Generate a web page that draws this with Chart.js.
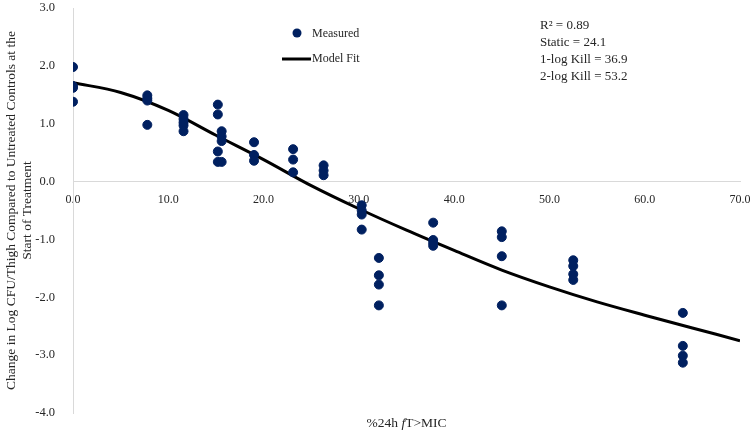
<!DOCTYPE html>
<html>
<head>
<meta charset="utf-8">
<script src="https://cdn.jsdelivr.net/npm/chart.js@4.4.1/dist/chart.umd.min.js"></script>
<style>
  html, body { margin: 0; padding: 0; background: #fff; }
  #wrap { width: 750px; height: 433px; position: relative; }
</style>
</head>
<body>
<div id="wrap"><canvas id="pdChart"></canvas></div>
<script>
"use strict"

// %24h fT>MIC of each dose group and the measured change in log CFU/thigh
const doseFT = [0.0, 7.8, 11.6, 15.2, 15.6, 19.0, 23.1, 26.3, 30.3, 32.1, 37.8, 45.0, 52.5, 64.0]
const measuredLogChange = [
    [1.98, 1.65, 1.62, 1.38],
    [1.49, 1.44, 1.40, 0.98],
    [1.15, 1.08, 1.02, 0.97, 0.87],
    [1.33, 1.16, 0.52, 0.34],
    [0.87, 0.78, 0.70, 0.34],
    [0.68, 0.46, 0.36],
    [0.56, 0.38, 0.16],
    [0.28, 0.19, 0.11],
    [-0.41, -0.50, -0.57, -0.83],
    [-1.32, -1.62, -1.78, -2.14],
    [-0.71, -1.01, -1.06, -1.11],
    [-0.86, -0.96, -1.29, -2.14],
    [-1.36, -1.46, -1.60, -1.70],
    [-2.27, -2.84, -3.01, -3.13]
]

// model fit curve
const fitX = [0, 5, 10, 15, 20, 25, 30, 35, 40, 45, 50, 55, 60, 65, 70]
const fitY = [1.71, 1.54, 1.23, 0.80, 0.38, -0.07, -0.47, -0.84, -1.19, -1.53, -1.82, -2.08, -2.31, -2.53, -2.75]

const seriesLabels = ["Measured", "Model Fit"]
const statsLines = ["R\u00B2 = 0.89", "Static = 24.1", "1-log Kill = 36.9", "2-log Kill = 53.2"]
const yTitleLines = ["Change in Log CFU/Thigh Compared to Untreated Controls at the", "Start of Treatment"]

const SERIF = "'Liberation Serif', 'Times New Roman', serif"
const NAVY = "#002060"

Chart.defaults.font.family = SERIF
Chart.defaults.color = "#262626"

const measuredPoints = []
doseFT.forEach((x, i) => {
    measuredLogChange[i].forEach(y => measuredPoints.push({ x: x, y: y }))
})
const fitPoints = fitX.map((x, i) => ({ x: x, y: fitY[i] }))

// legend, stats box and x title drawn straight on the canvas
const overlayText = {
    id: "overlayText",
    afterDraw: chart => {
        const ctx = chart.ctx
        const area = chart.chartArea
        ctx.save()

        // legend
        ctx.fillStyle = NAVY
        ctx.beginPath()
        ctx.arc(297, 33, 4.5, 0, Math.PI * 2)
        ctx.fill()
        ctx.strokeStyle = "#000"
        ctx.lineWidth = 3
        ctx.beginPath()
        ctx.moveTo(282, 59)
        ctx.lineTo(311, 59)
        ctx.stroke()

        ctx.fillStyle = "#262626"
        ctx.textBaseline = "middle"
        ctx.textAlign = "left"
        ctx.font = "12px " + SERIF
        ctx.fillText(seriesLabels[0], 312, 34)
        ctx.fillText(seriesLabels[1], 312, 59)

        // stats
        ctx.font = "13px " + SERIF
        statsLines.forEach((line, i) => ctx.fillText(line, 540, 26 + i * 17))

        // x axis title: %24h fT>MIC with italic f, centred under the plot
        const parts = [["%24h ", "13.5px "], ["f", "italic 13.5px "], ["T>MIC", "13.5px "]]
        let total = 0
        parts.forEach(p => { ctx.font = p[1] + SERIF; total += ctx.measureText(p[0]).width })
        let x = (area.left + area.right) / 2 - total / 2
        parts.forEach(p => {
            ctx.font = p[1] + SERIF
            ctx.fillText(p[0], x, 423)
            x += ctx.measureText(p[0]).width
        })
        ctx.restore()
    }
}

const ctx = document.getElementById("pdChart")
const pdChart = new Chart(ctx, {
    type: "scatter",
    data: {
        datasets: [{
            label: seriesLabels[0],
            data: measuredPoints,
            backgroundColor: NAVY,
            borderColor: NAVY,
            pointRadius: 4.5,
            pointHoverRadius: 4.5,
            order: 0
        }, {
            label: seriesLabels[1],
            type: "line",
            data: fitPoints,
            borderColor: "#000",
            borderWidth: 3,
            pointRadius: 0,
            fill: false,
            cubicInterpolationMode: "monotone",
            order: 1
        }]
    },
    options: {
        responsive: true,
        maintainAspectRatio: false,
        animation: false,
        layout: {
            padding: { left: 0, top: 8, right: 10, bottom: 20 }
        },
        plugins: {
            legend: { display: false },
            tooltip: { enabled: false }
        },
        scales: {
            x: {
                type: "linear",
                position: { y: 0 },
                min: 0,
                max: 70,
                grid: { display: false },
                border: { display: true, color: "#d9d9d9", width: 1 },
                ticks: {
                    stepSize: 10,
                    padding: 3,
                    maxRotation: 0,
                    font: { size: 12 },
                    callback: v => v.toFixed(1)
                },
                afterFit: scale => {
                    scale.paddingLeft = 0
                    scale.paddingRight = 0
                }
            },
            y: {
                type: "linear",
                position: "left",
                min: -4,
                max: 3,
                grid: { display: false },
                border: { display: true, color: "#d9d9d9", width: 1 },
                ticks: {
                    stepSize: 1,
                    padding: 10,
                    font: { size: 12.5 },
                    callback: v => v.toFixed(1)
                },
                title: {
                    display: true,
                    text: yTitleLines,
                    font: { size: 13.5 },
                    padding: { top: 3, bottom: 0 }
                },
                afterFit: scale => {
                    scale.width = 73
                    scale.paddingTop = 0
                    scale.paddingBottom = 0
                }
            }
        }
    },
    plugins: [overlayText]
})
</script>
</body>
</html>
